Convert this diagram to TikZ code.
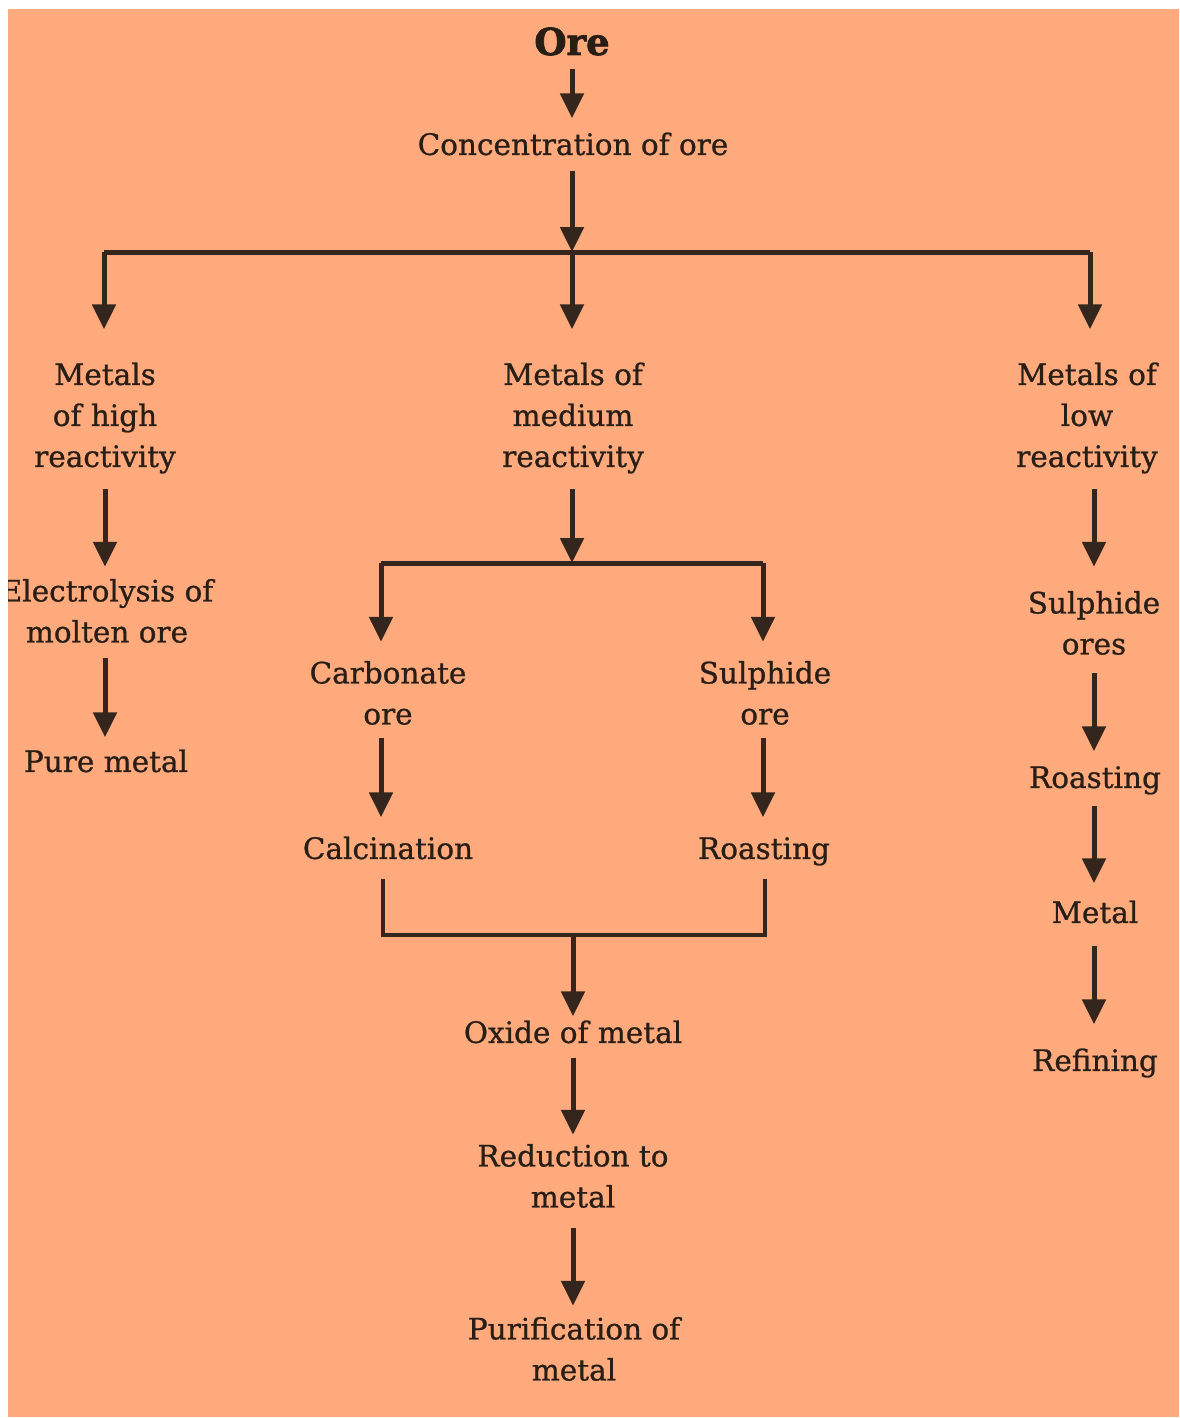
\documentclass[tikz,border=0pt]{standalone}
\usepackage{fontspec}
\setmainfont{DejaVu Serif}[FakeBold=0.8]
\newfontfamily\orefont{DejaVu Serif Bold}[FakeBold=2]
\usetikzlibrary{arrows.meta}
\definecolor{bgorange}{RGB}{254,170,124}
\definecolor{ink}{RGB}{52,38,28}
\definecolor{txtink}{RGB}{40,30,22}
\begin{document}
\begin{tikzpicture}[x=1pt,y=-1pt,
  txt/.style={font=\fontsize{29.5pt}{41pt}\selectfont, text=txtink, align=center, inner sep=0pt,
    execute at begin node={\vphantom{Ahy}}, execute at end node={\vphantom{Ahy}}},
  title/.style={font=\orefont\fontsize{37pt}{41pt}\selectfont, text=txtink, inner sep=0pt,
    execute at begin node={\vphantom{Ahy}}},
  arr/.style={draw=ink, line width=5pt, -{Triangle[width=23pt,length=25pt]}},
  jline/.style={draw=ink, line width=4pt},
  hline/.style={draw=ink, line width=5pt}
]
\useasboundingbox (0,0) rectangle (1179,1418);
\fill[white] (0,0) rectangle (1179,1418);
\fill[bgorange] (8,9) rectangle (1179,1417);
\begin{scope}
\clip (8,9) rectangle (1179,1417);
% nodes
\node[title] (ore) at (572,45) {Ore};
\node[txt] (conc) at (573,147) {Concentration of ore};
\node[txt] (high) at (105,418) {Metals\\of high\\reactivity};
\node[txt] (med) at (573,418) {Metals of\\medium\\reactivity};
\node[txt] (low) at (1087,418) {Metals of\\low\\reactivity};
\node[txt] (elec) at (107,614) {Electrolysis of\\molten ore};
\node[txt] (pure) at (106,764) {Pure metal};
\node[txt] (carb) at (388,696) {Carbonate\\ore};
\node[txt] (sulph) at (765,696) {Sulphide\\ore};
\node[txt] (calc) at (388,851) {Calcination};
\node[txt] (roast) at (764,851) {Roasting};
\node[txt] (oxide) at (573,1035) {Oxide of metal};
\node[txt] (red) at (573,1179) {Reduction to\\metal};
\node[txt] (puri) at (574,1352) {Purification of\\metal};
\node[txt] (sores) at (1094,626) {Sulphide\\ores};
\node[txt] (roast2) at (1095,780) {Roasting};
\node[txt] (metal) at (1095,915) {Metal};
\node[txt] (refin) at (1095,1063) {Refining};
% junction coordinates
\coordinate (h1) at (572,252);
\coordinate (hL) at (104,252);
\coordinate (hR) at (1090,252);
\coordinate (h2) at (572,563);
\coordinate (h2L) at (381,563);
\coordinate (h2R) at (763,563);
\coordinate (jL) at (383,935);
\coordinate (jR) at (765,935);
\coordinate (jM) at (573,935);
% top
\draw[arr, shorten <=6pt, shorten >=14pt] (ore.south) -- (ore.south |- conc.north);
\draw[arr, shorten <=9pt] (h1 |- conc.south) -- (h1);
\draw[hline] (hL) -- (hR);
\draw[arr, shorten >=33pt] (hL) -- (hL |- high.north);
\draw[arr, shorten >=33pt] (h1) -- (h1 |- med.north);
\draw[arr, shorten >=33pt] (hR) -- (hR |- low.north);
% left column
\draw[arr, shorten <=15pt, shorten >=12pt] (high.south) -- (high.south |- elec.north);
\draw[arr, shorten <=9pt, shorten >=12pt] (high.south |- elec.south) -- (high.south |- pure.north);
% middle column
\draw[arr, shorten <=15pt] (h2 |- med.south) -- (h2);
\draw[hline] (h2L) -- (h2R);
\draw[arr, shorten >=19pt] (h2L) -- (h2L |- carb.north);
\draw[arr, shorten >=19pt] (h2R) -- (h2R |- sulph.north);
\draw[arr, shorten <=7pt, shorten >=19pt] (h2L |- carb.south) -- (h2L |- calc.north);
\draw[arr, shorten <=7pt, shorten >=19pt] (h2R |- sulph.south) -- (h2R |- roast.north);
\draw[jline, shorten <=13pt, shorten >=13pt] (jL |- calc.south) -- (jL) -- (jR) -- (jR |- roast.south);
\draw[arr, shorten >=4pt] (jM) -- (jM |- oxide.north);
\draw[arr, shorten <=8pt, shorten >=9pt] (oxide.south) -- (oxide.south |- red.north);
\draw[arr, shorten <=14pt, shorten >=11pt] (red.south) -- (red.south |- puri.north);
% right column
\draw[arr, shorten <=15pt, shorten >=24pt] (low.south -| sores.north) -- (sores.north);
\draw[arr, shorten <=12pt, shorten >=14pt] (sores.south) -- (sores.south |- roast2.north);
\draw[arr, shorten <=11pt, shorten >=17pt] (sores.south |- roast2.south) -- (sores.south |- metal.north);
\draw[arr, shorten <=16pt, shorten >=24pt] (sores.south |- metal.south) -- (sores.south |- refin.north);
\end{scope}
\end{tikzpicture}
\end{document}
